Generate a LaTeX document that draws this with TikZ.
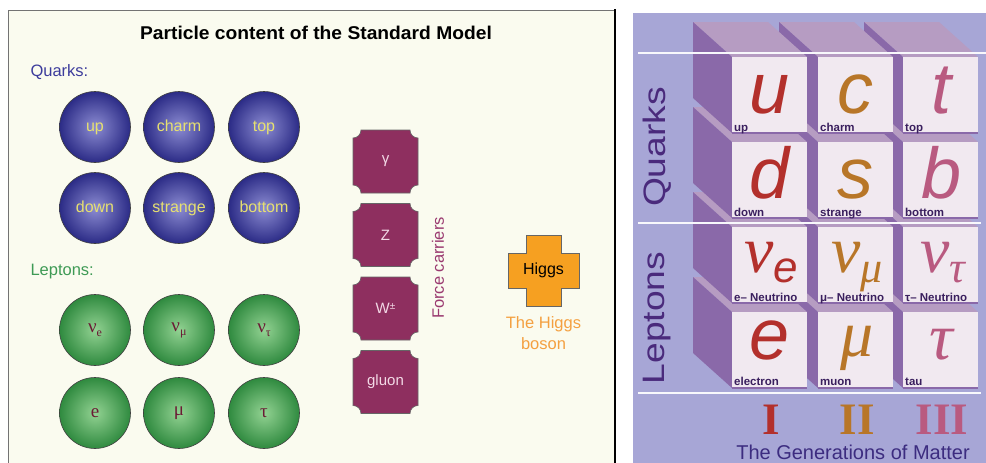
\documentclass[tikz,border=0pt]{standalone}
\usepackage{fontspec}
\setmainfont{Liberation Sans}
\newfontfamily\timesfont{Liberation Serif}

\definecolor{cream}{HTML}{FAFBEF}
\definecolor{qinner}{HTML}{8C8CD2}
\definecolor{qouter}{HTML}{2B2B86}
\definecolor{qtext}{HTML}{E6E070}
\definecolor{linner}{HTML}{92D292}
\definecolor{louter}{HTML}{2F8A3F}
\definecolor{ltext}{HTML}{6B1A35}
\definecolor{carrierfill}{HTML}{8E2F5F}
\definecolor{carriertextcol}{HTML}{F3D9E6}
\definecolor{forcecol}{HTML}{9A3A70}
\definecolor{higgsfill}{HTML}{F6A021}
\definecolor{higgslabel}{HTML}{F4A040}
\definecolor{quarkblue}{HTML}{3C3C9C}
\definecolor{leptongreen}{HTML}{3E9A55}
\definecolor{lav}{HTML}{A7A6D6}
\definecolor{sidecol}{HTML}{8A69A9}
\definecolor{topcol}{HTML}{B69CC2}
\definecolor{frontcol}{HTML}{F1E9F0}
\definecolor{gen1}{HTML}{B3302C}
\definecolor{gen2}{HTML}{B87628}
\definecolor{gen3}{HTML}{B95A80}
\definecolor{cellcol}{HTML}{3A1F5E}
\definecolor{vtextcol}{HTML}{4A2A7C}
\definecolor{gentitle}{HTML}{3C2C80}

% concave-cornered force-carrier tile: name, x, y, label
\newcommand\carrier[4]{%
  \begin{scope}[shift={(#2,#3)}]
    \path[carrierbox] (-24.5,-31.5) -- (24.5,-31.5)
      .. controls (24.5,-27.1) and (28.1,-23.5) .. (32.5,-23.5) -- (32.5,23.5)
      .. controls (28.1,23.5) and (24.5,27.1) .. (24.5,31.5) -- (-24.5,31.5)
      .. controls (-24.5,27.1) and (-28.1,23.5) .. (-32.5,23.5) -- (-32.5,-23.5)
      .. controls (-28.1,-23.5) and (-24.5,-27.1) .. cycle;
    \node[carriertext] (#1) at (0,0) {#4};
  \end{scope}}

% one cube of the generations table: top-left corner of its front face
\newcommand\cube[2]{%
  \fill[topcol] ({#1},{#2}) -- ++(75,0) -- ++(-39,-35) -- ++(-75,0) -- cycle;
  \fill[sidecol] ({#1},{#2}) -- ++(-39,-35) -- ++(0,76) -- ++(39,35) -- cycle;
  \fill[frontcol] ({#1},{#2}) rectangle ++(75,76);
  \draw[sidecol, line width=2pt] ({#1},{#2+76}) -- ++(75,0);}

\newcommand\lsub[1]{\raisebox{-4pt}{\fontsize{12}{12}\selectfont #1}}
\newcommand\bigsub[2]{\raisebox{-10pt}{\fontsize{#1}{#1}\selectfont #2}}

\begin{document}
\begin{tikzpicture}[x=1pt,y=-1pt,
  quark/.style={circle, minimum size=71pt, inner sep=0pt, draw=black!75,
    line width=0.6pt, inner color=qinner, outer color=qouter, text=qtext,
    text height=11.5pt, text depth=3.5pt,
    font=\fontsize{16}{16}\selectfont},
  lepton/.style={circle, minimum size=71pt, inner sep=0pt, draw=black!75,
    line width=0.6pt, inner color=linner, outer color=louter, text=ltext,
    font=\timesfont\fontsize{19}{19}\selectfont},
  carrierbox/.style={fill=carrierfill, draw=black!60, line width=0.6pt},
  carriertext/.style={text=carriertextcol, font=\fontsize{15}{15}\selectfont},
  higgsbox/.style={fill=higgsfill, draw=black!60, line width=0.7pt},
  sectionlabel/.style={anchor=west, font=\fontsize{16.5}{16.5}\selectfont},
  bigsans/.style={anchor=base, font=\itshape\fontsize{72}{72}\selectfont,
    inner sep=0pt, text depth=0pt},
  biggreek/.style={anchor=base, font=\timesfont\itshape\fontsize{66}{66}\selectfont,
    inner sep=0pt, text depth=0pt},
  cellname/.style={anchor=base west, text=cellcol, inner sep=0pt,
    font=\bfseries\fontsize{11.5}{11.5}\selectfont},
  roman/.style={anchor=base, font=\timesfont\bfseries\fontsize{45}{45}\selectfont, inner sep=0pt},
  sideword/.style={rotate=90, text=vtextcol, inner sep=0pt, font=\fontsize{31}{31}\selectfont},
  divider/.style={draw=white!92!lav, line width=2pt}]

\useasboundingbox (0,0) rectangle (986,463);

% ---------- left panel ----------
\fill[cream] (8,10) rectangle (614,463);
\draw[black!55, line width=0.8pt] (8,463) -- (8,10.5) -- (614,10.5);
\draw[black, line width=2.6pt] (614.8,9) -- (614.8,463);

\node[font=\bfseries\fontsize{18.5}{20}\selectfont] (title) at (316,33)
  {\scalebox{1.04}[1]{Particle content of the Standard Model}};

\node[sectionlabel, text=quarkblue] (quarks) at (27,72) {Quarks:};
\node[sectionlabel, text=leptongreen] (leptons) at (27,272) {Leptons:};

\node[quark] (up) at (95,127) {up};
\node[quark] (charm) at (179,127) {charm};
\node[quark] (top) at (264,127) {top};
\node[quark] (down) at (95,208) {down};
\node[quark] (strange) at (179,208) {strange};
\node[quark] (bottom) at (264,208) {bottom};

\node[lepton] (nue) at (95,330) {ν\lsub{e}};
\node[lepton] (numu) at (179,330) {ν\lsub{μ}};
\node[lepton] (nutau) at (264,330) {ν\lsub{τ}};
\node[lepton] (electron) at (95,413) {e};
\node[lepton] (muon) at (179,413) {μ};
\node[lepton] (tau) at (264,413) {τ};

\carrier{photon}{385.5}{161.5}{γ}
\carrier{zboson}{385.5}{235}{Z}
\carrier{wboson}{385.5}{308.5}{W\raisebox{4pt}{\fontsize{10}{10}\selectfont ±}}
\carrier{gluon}{385.5}{382}{gluon}

\node[rotate=90, text=forcecol, font=\fontsize{16.5}{16.5}\selectfont] (force) at (438,268)
  {Force carriers};

\begin{scope}[shift={(543.5,270.5)}]
  \path[higgsbox] (-17.5,-35.5) -- (17.5,-35.5) -- (17.5,-17.5) -- (35.5,-17.5)
    -- (35.5,17.5) -- (17.5,17.5) -- (17.5,35.5) -- (-17.5,35.5) -- (-17.5,17.5)
    -- (-35.5,17.5) -- (-35.5,-17.5) -- (-17.5,-17.5) -- cycle;
  \node[font=\fontsize{16}{16}\selectfont] (higgs) at (0,0) {Higgs};
\end{scope}
\node[text=higgslabel, align=center, font=\fontsize{16.5}{21}\selectfont] (higgslbl) at (543.5,333)
  {The Higgs\\boson};

% ---------- right panel ----------
\fill[lav] (633,13) rectangle (986,463);

% cubes, painted from the bottom row up and from right to left
\foreach \yy in {312,227,142,57}{
  \foreach \xx in {903,818,732}{
    \cube{\xx}{\yy}
  }
}

\draw[divider] (638,53) -- (986,53);
\draw[divider] (638,222.5) -- (981,222.5);
\draw[divider] (638,393) -- (981,393);

\node[sideword] (qword) at (657,147) {\scalebox{1.2}[1]{Quarks}};
\node[sideword] (lword) at (657,318) {\scalebox{1.2}[1]{Leptons}};

% quark symbols
\node[bigsans, text=gen1] (su) at (769.5,113) {u};
\node[bigsans, text=gen2] (sc) at (855.5,113) {c};
\node[bigsans, text=gen3] (st) at (941.5,113) {t};
\node[bigsans, text=gen1] (sd) at (769.5,198) {d};
\node[bigsans, text=gen2] (ss) at (855.5,198) {s};
\node[bigsans, text=gen3] (sb) at (941.5,198) {b};
% lepton symbols
\node[biggreek, text=gen1] (snue) at (771,272) {ν\bigsub{44}{\normalfont\itshape e}};
\node[biggreek, text=gen2] (snumu) at (857,272) {ν\bigsub{44}{μ}};
\node[biggreek, text=gen3] (snutau) at (943,272) {ν\bigsub{44}{τ}};
\node[bigsans, text=gen1] (se) at (769.5,359) {e};
\node[biggreek, text=gen2] (smu) at (857,356) {μ};
\node[biggreek, text=gen3] (stau) at (941.5,359) {τ};

% cell names
\node[cellname] (nup) at (734,131) {up};
\node[cellname] (ncharm) at (820,131) {charm};
\node[cellname] (ntop) at (905,131) {top};
\node[cellname] (ndown) at (734,216) {down};
\node[cellname] (nstrange) at (820,216) {strange};
\node[cellname] (nbottom) at (905,216) {bottom};
\node[cellname] (nnue) at (734,301) {e– Neutrino};
\node[cellname] (nnumu) at (820,301) {μ– Neutrino};
\node[cellname] (nnutau) at (905,301) {τ– Neutrino};
\node[cellname] (nelectron) at (734,385) {electron};
\node[cellname] (nmuon) at (820,385) {muon};
\node[cellname] (ntau) at (905,385) {tau};

% generation numerals
\node[roman, text=gen1] (g1) at (771,434) {I};
\node[roman, text=gen2] (g2) at (857,434) {II};
\node[roman, text=gen3] (g3) at (942,434) {III};

\node[anchor=base, text=gentitle, inner sep=0pt, text depth=0pt,
  font=\fontsize{20}{20}\selectfont] (gens) at (853,459.5)
  {The Generations of Matter};

\end{tikzpicture}
\end{document}
